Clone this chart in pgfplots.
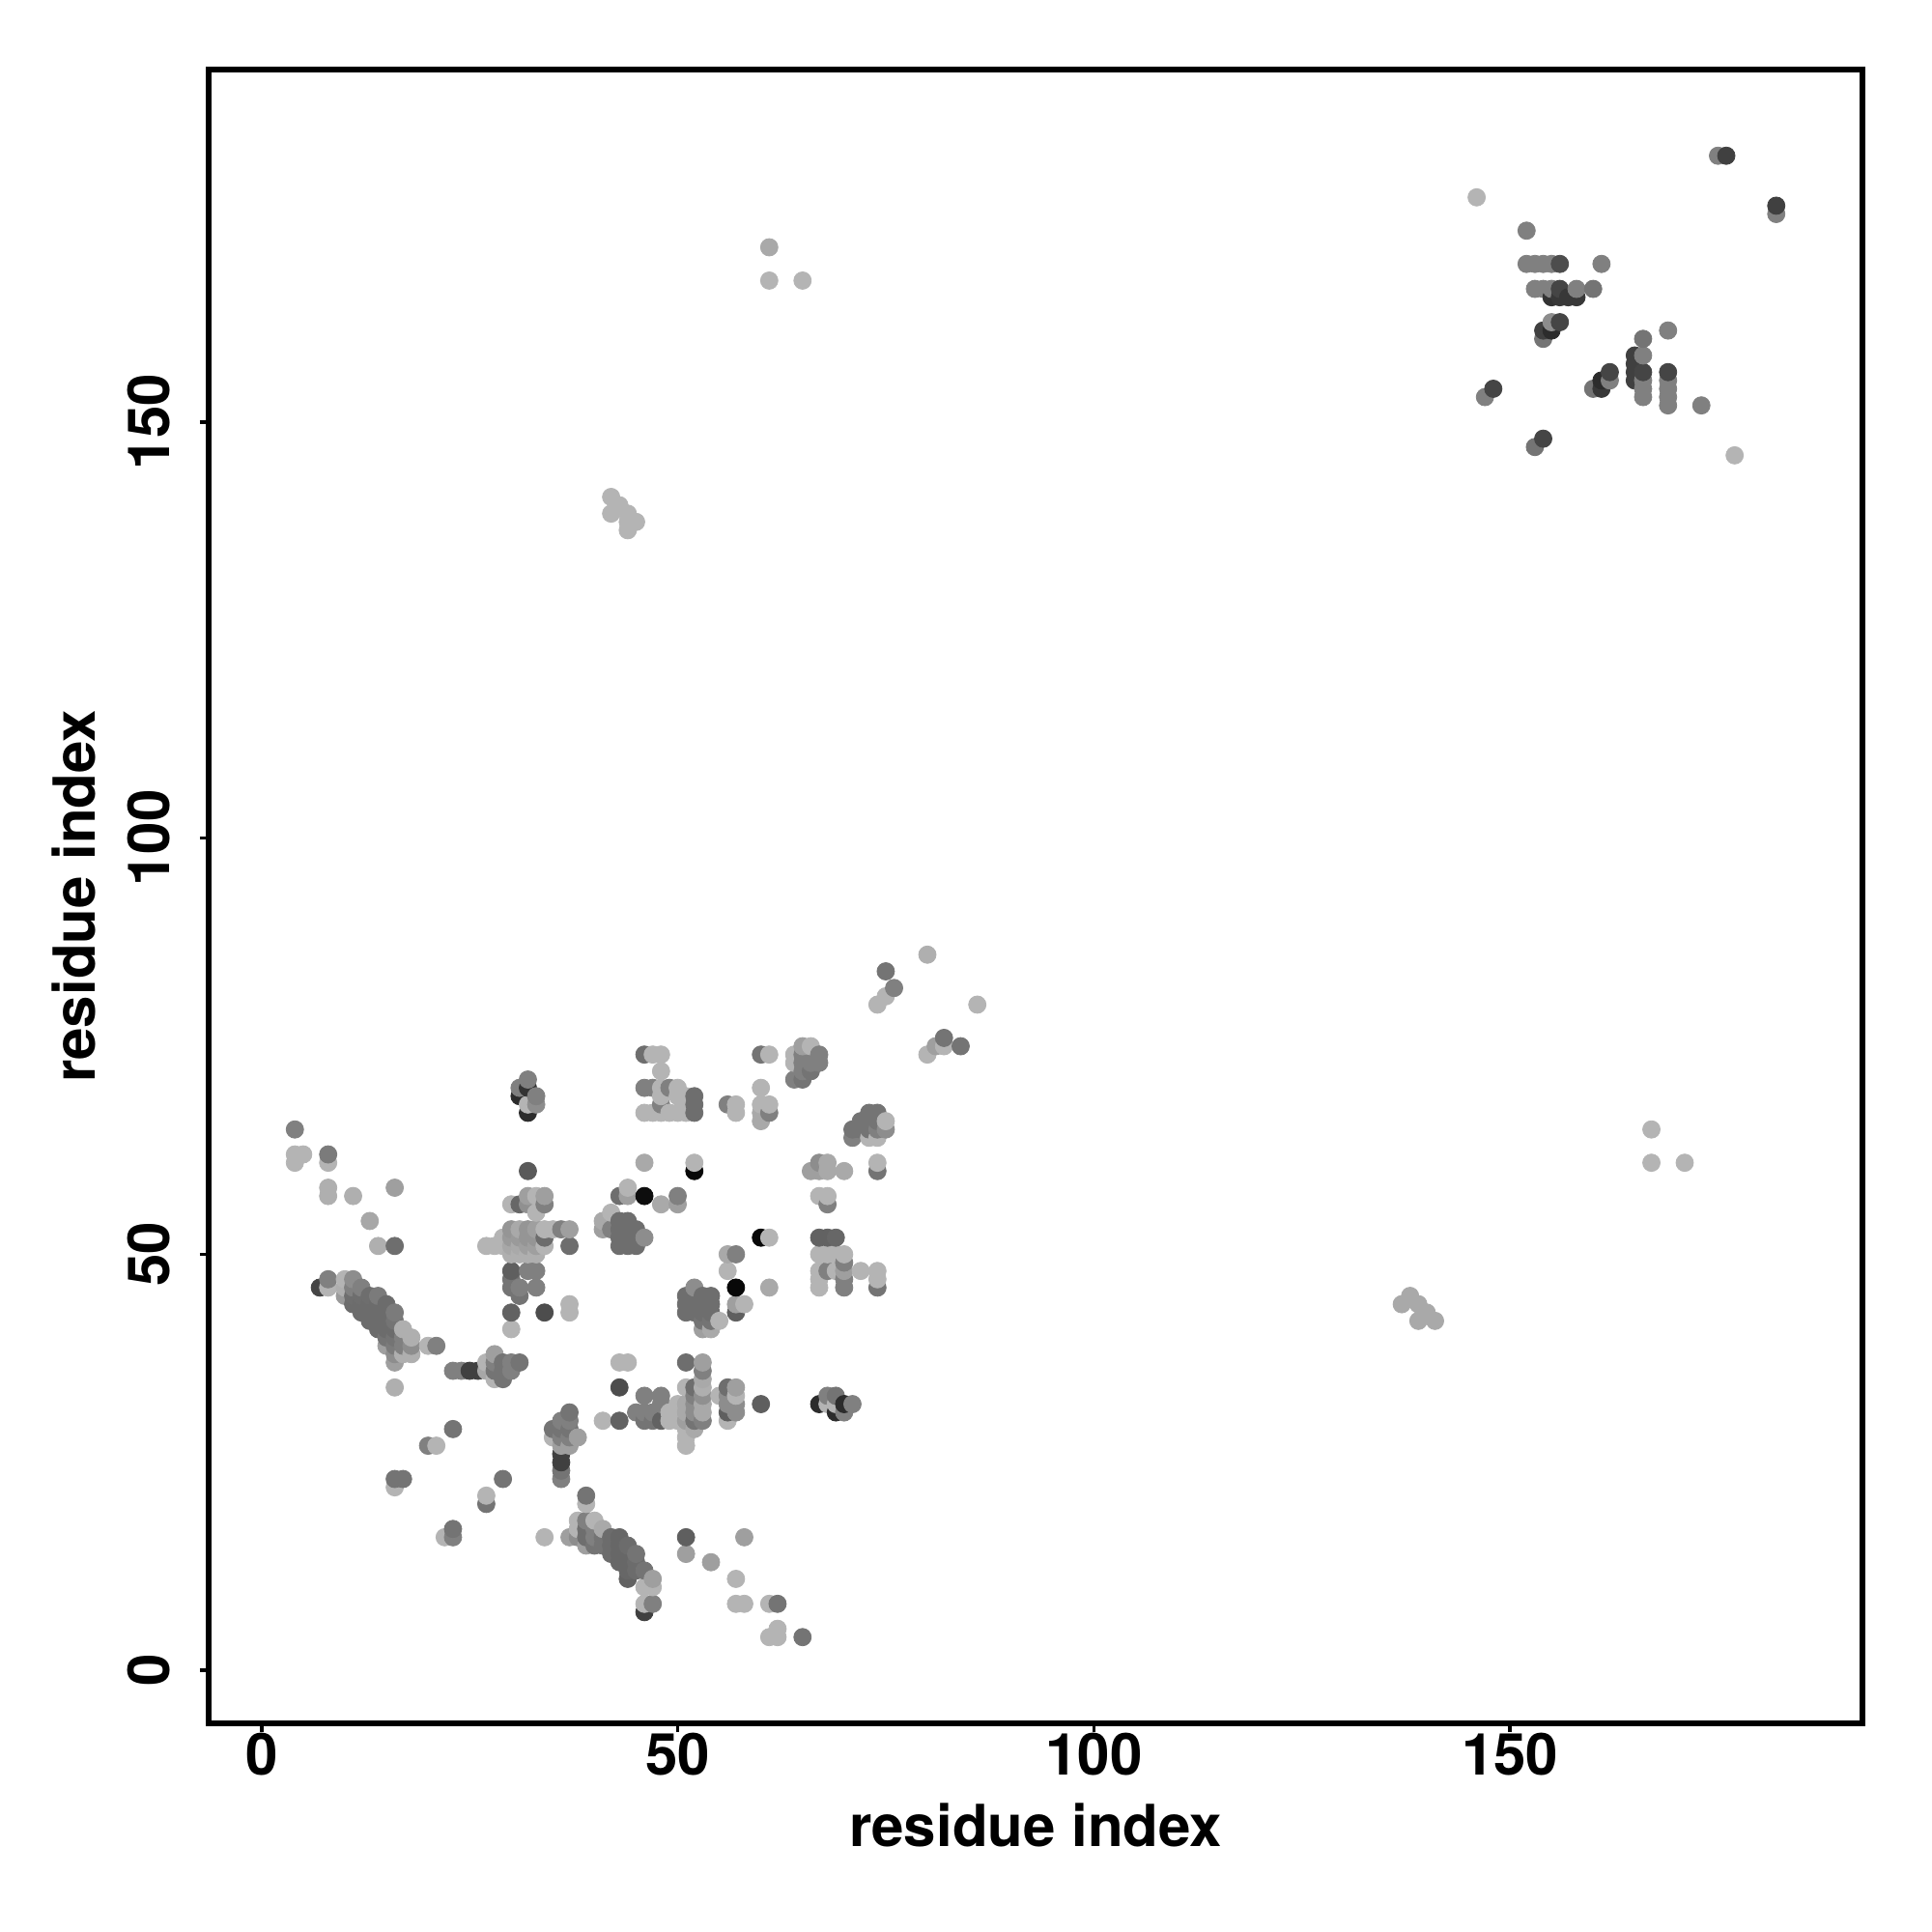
\documentclass[border=0pt]{standalone}
\usepackage{pgfplots}
\pgfplotsset{compat=1.18}
\usepackage{pgfplotstable}
\usepackage{fontspec}
\setmainfont{TeX Gyre Heros}
\pgfplotstableread{
x y g
4 61 .70
4 62 .70
4 65 .50
5 62 .70
7 46 .27
8 46 .70
8 47 .50
8 57 .68
8 58 .68
8 61 .70
8 62 .48
10 45 .60
10 46 .68
10 47 .70
11 44 .42
11 45 .43
11 46 .50
11 47 .55
11 57 .68
12 43 .42
12 44 .42
12 45 .43
12 46 .50
13 42 .42
13 43 .42
13 44 .42
13 45 .43
13 54 .65
14 41 .42
14 42 .42
14 43 .42
14 44 .42
14 45 .48
14 51 .68
15 39 .62
15 40 .45
15 41 .42
15 42 .42
15 43 .42
15 44 .42
16 22 .70
16 23 .45
16 34 .68
16 37 .62
16 38 .55
16 39 .48
16 40 .45
16 41 .42
16 42 .45
16 43 .48
16 51 .43
16 58 .62
17 23 .45
17 38 .68
17 39 .50
17 40 .50
17 41 .68
18 38 .68
18 39 .55
18 40 .68
20 27 .50
20 39 .70
21 27 .70
21 39 .50
22 16 .70
23 16 .50
23 17 .45
23 29 .45
23 36 .50
24 36 .50
25 36 .25
26 36 .25
27 20 .45
27 21 .70
27 36 .65
27 37 .70
27 51 .70
28 35 .70
28 36 .45
28 37 .50
28 38 .62
28 51 .70
29 23 .45
29 35 .45
29 36 .45
29 37 .45
29 51 .70
29 52 .70
30 36 .50
30 37 .50
30 41 .70
30 43 .38
30 46 .45
30 47 .45
30 48 .37
30 50 .68
30 51 .65
30 52 .60
30 53 .58
30 56 .70
31 37 .45
31 45 .45
31 46 .50
31 50 .68
31 51 .66
31 52 .60
31 53 .66
31 56 .40
31 69 .17
31 70 .50
32 48 .50
32 50 .68
32 51 .62
32 52 .58
32 53 .58
32 56 .56
32 57 .62
32 60 .35
32 67 .17
32 68 .70
32 70 .20
32 71 .50
33 46 .50
33 48 .50
33 50 .68
33 51 .62
33 52 .58
33 53 .62
33 55 .70
33 57 .70
33 68 .55
33 69 .50
34 16 .70
34 43 .30
34 51 .70
34 52 .42
34 53 .70
34 56 .50
34 57 .62
35 28 .70
35 29 .45
35 53 .70
36 23 .50
36 24 .45
36 25 .25
36 26 .25
36 27 .62
36 28 .50
36 29 .45
36 30 .50
36 53 .50
37 16 .62
37 27 .62
37 28 .50
37 29 .45
37 30 .50
37 31 .45
37 43 .70
37 44 .70
37 51 .43
37 53 .62
38 16 .55
38 17 .70
38 18 .70
38 28 .62
39 15 .62
39 16 .43
39 17 .43
39 18 .50
39 20 .70
39 21 .45
40 15 .45
40 16 .50
40 17 .50
40 18 .70
41 15 .45
41 16 .45
41 17 .66
41 30 .70
41 53 .62
41 54 .66
42 14 .42
42 15 .42
42 16 .42
42 53 .50
42 55 .70
42 139 .70
42 141 .70
43 13 .40
43 14 .40
43 15 .40
43 16 .40
43 30 .38
43 34 .30
43 37 .70
43 51 .43
43 52 .43
43 53 .43
43 54 .43
43 57 .43
43 140 .70
44 11 .38
44 12 .40
44 13 .40
44 14 .40
44 15 .42
44 37 .70
44 51 .43
44 52 .43
44 53 .43
44 54 .43
44 57 .62
44 58 .70
44 137 .70
44 138 .70
44 139 .70
45 12 .42
45 13 .42
45 14 .45
45 31 .50
45 51 .43
45 52 .43
45 53 .43
45 138 .70
46 7 .25
46 8 .70
46 10 .70
46 12 .45
46 30 .45
46 31 .50
46 33 .50
46 52 .55
46 57 .05
46 61 .66
46 67 .70
46 70 .50
46 74 .43
47 8 .50
47 10 .70
47 11 .62
47 30 .45
47 31 .50
47 67 .70
47 70 .50
47 74 .70
48 30 .38
48 32 .50
48 33 .50
48 56 .66
48 67 .70
48 68 .50
48 69 .70
48 70 .70
48 72 .70
48 74 .70
49 30 .70
49 31 .70
49 67 .70
49 70 .50
50 30 .70
50 31 .70
50 32 .70
50 56 .62
50 57 .50
50 67 .70
50 69 .70
50 70 .70
51 14 .62
51 16 .37
51 27 .70
51 28 .70
51 29 .70
51 30 .62
51 31 .66
51 32 .66
51 34 .70
51 37 .43
51 43 .43
51 44 .43
51 45 .43
51 67 .70
51 68 .70
51 69 .70
52 29 .66
52 30 .45
52 31 .55
52 32 .55
52 33 .50
52 34 .43
52 43 .43
52 44 .43
52 45 .43
52 46 .55
52 60 .03
52 61 .70
52 67 .43
52 68 .43
52 69 .43
53 30 .50
53 31 .66
53 32 .66
53 33 .56
53 34 .68
53 35 .66
53 36 .50
53 37 .62
53 41 .62
53 42 .45
53 43 .43
53 44 .43
53 45 .43
54 13 .62
54 41 .66
54 42 .45
54 43 .43
54 44 .43
54 45 .43
55 33 .70
55 42 .70
56 30 .70
56 31 .37
56 32 .55
56 33 .55
56 34 .43
56 48 .70
56 50 .66
56 68 .50
57 8 .70
57 11 .70
57 31 .55
57 32 .55
57 33 .70
57 34 .62
57 43 .37
57 44 .62
57 46 .03
57 50 .50
57 67 .70
57 68 .70
58 8 .70
58 16 .62
58 44 .70
60 32 .37
60 52 .03
60 66 .66
60 67 .66
60 68 .70
60 70 .70
60 74 .45
61 4 .70
61 8 .70
61 46 .66
61 52 .70
61 67 .50
61 68 .70
61 74 .70
61 167 .70
61 171 .66
62 4 .70
62 5 .70
62 8 .45
64 71 .50
64 73 .70
64 74 .70
65 4 .45
65 71 .45
65 72 .50
65 73 .50
65 74 .50
65 75 .62
65 167 .70
66 60 .62
66 72 .45
66 73 .50
66 75 .70
67 32 .17
67 46 .70
67 47 .70
67 48 .70
67 50 .70
67 52 .38
67 57 .70
67 60 .62
67 61 .55
67 73 .50
67 74 .50
68 32 .70
68 33 .50
68 48 .50
68 50 .70
68 52 .38
68 56 .50
68 57 .70
68 60 .66
68 61 .66
69 31 .17
69 32 .70
69 33 .45
69 48 .70
69 50 .70
69 52 .40
70 31 .50
70 32 .17
70 46 .50
70 47 .50
70 48 .62
70 49 .50
70 50 .70
70 60 .66
71 32 .50
71 64 .50
71 65 .45
72 48 .70
72 65 .45
72 66 .45
73 64 .70
73 65 .45
73 66 .45
73 67 .45
74 46 .45
74 47 .70
74 48 .70
74 60 .45
74 61 .70
74 64 .70
74 65 .50
74 66 .45
74 67 .45
74 80 .70
75 65 .55
75 66 .70
75 81 .70
75 84 .45
76 82 .50
80 74 .70
80 86 .68
81 75 .62
82 75 .70
82 76 .45
84 75 .45
86 80 .70
137 44 .66
138 45 .66
139 42 .66
139 44 .66
140 43 .66
141 42 .66
146 177 .70
147 153 .50
148 154 .27
152 169 .50
152 173 .50
153 147 .45
153 166 .50
153 169 .50
154 148 .27
154 160 .45
154 161 .25
154 166 .50
154 169 .50
155 161 .17
155 162 .55
155 165 .20
155 166 .50
155 169 .50
156 162 .27
156 165 .22
156 166 .27
156 169 .30
157 165 .22
158 165 .22
158 166 .50
160 154 .45
160 166 .45
161 154 .22
161 155 .17
161 169 .50
162 155 .50
162 156 .27
165 155 .25
165 156 .25
165 157 .25
165 158 .25
166 153 .50
166 154 .50
166 155 .50
166 156 .27
166 158 .50
166 160 .45
167 61 .70
167 65 .70
169 152 .50
169 153 .50
169 154 .50
169 155 .50
169 156 .27
169 161 .50
171 61 .70
173 152 .50
175 182 .50
176 182 .25
177 146 .70
182 175 .50
182 176 .25
}\contacts
\begin{document}
\begin{tikzpicture}
\useasboundingbox (-108pt,-108pt) rectangle (892pt,892pt);
\begin{axis}[
  at={(0pt,0pt)}, anchor=south west,
  scale only axis, width=856pt, height=856pt,
  xmin=-6.36, xmax=192.36, ymin=-6.36, ymax=192.36,
  axis line style={line width=3pt, black},
  xtick={0,50,100,150}, ytick={0,50,100,150},
  tick align=outside, tick pos=lower,
  major tick length=4.5pt,
  tick style={line width=1.8pt, black},
  ticklabel style={font=\bfseries\fontsize{30}{30}\selectfont},
  /pgf/number format/assume math mode=true,
  xticklabel style={yshift=3pt},
  yticklabel style={rotate=90, anchor=south, yshift=12pt},
  xlabel={\bfseries residue index},
  ylabel={\bfseries residue index},
  label style={font=\bfseries\fontsize{30}{30}\selectfont},
  xlabel style={at={(axis description cs:0.5,-0.0613)}, anchor=center},
  ylabel style={at={(axis description cs:-0.0816,0.5)}, anchor=center},
  clip=true,
  colormap={gr}{gray(0cm)=(0); gray(1cm)=(1)},
  point meta min=0, point meta max=1,
]
\addplot[scatter, only marks, scatter src=explicit, mark=*, mark size=4.5pt,
  scatter/use mapped color={draw=mapped color, fill=mapped color}]
  table[x=x, y=y, meta=g] {\contacts};
\end{axis}
\end{tikzpicture}
\end{document}
